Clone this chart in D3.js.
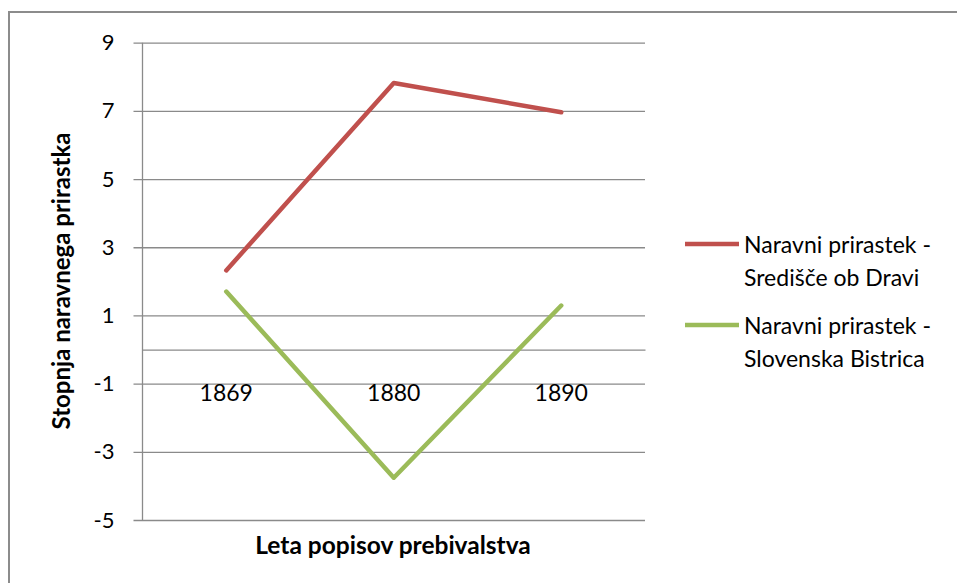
<!DOCTYPE html>
<html>
<head>
<meta charset="utf-8">
<script src="https://cdn.jsdelivr.net/npm/d3@7"></script>
<style>
  html, body { margin: 0; padding: 0; background: #fff; }
  svg { display: block; }
  text { font-family: Lato, "Open Sans", sans-serif; fill: #000; }
</style>
</head>
<body>
<svg id="chart" width="957" height="583"></svg>
<script>
// Census years on the category axis
const years = ["1869", "1880", "1890"];
// Natural growth rate per series
const sredisce = [2.32, 7.82, 6.96];
const bistrica = [1.70, -3.76, 1.29];
const seriesNames = [
  ["Naravni prirastek -", "Središče ob Dravi"],
  ["Naravni prirastek -", "Slovenska Bistrica"]
];
const yTicks = [9, 7, 5, 3, 1, -1, -3, -5];

const series = [
  { values: sredisce, color: "#c0504d", label: seriesNames[0] },
  { values: bistrica, color: "#9bbb59", label: seriesNames[1] }
];

const svg = d3.select("#chart");

// Outer chart frame
svg.append("rect")
  .attr("x", 9).attr("y", 12)
  .attr("width", 960).attr("height", 600)
  .attr("fill", "none")
  .attr("stroke", "#8c8c8c")
  .attr("stroke-width", 2);

const plot = { left: 142.5, right: 645, top: 42.7, bottom: 520 };

const x = d3.scaleBand().domain(years).range([plot.left, plot.right]);
const y = d3.scaleLinear().domain([-5, 9]).range([plot.bottom, plot.top]);

// Horizontal gridlines with outward tick marks (plain hyphen for negatives)
const yAxis = d3.axisLeft(y)
  .tickValues(yTicks)
  .tickSize(-(plot.right - plot.left))
  .tickPadding(28)
  .tickFormat(d => String(d));

const gy = svg.append("g")
  .attr("transform", `translate(${plot.left},0)`)
  .call(yAxis);
gy.select(".domain").remove();
gy.selectAll(".tick line")
  .attr("x1", -9)
  .attr("stroke", "#8a8a8a")
  .attr("stroke-width", 1.3);
gy.selectAll(".tick text")
  .attr("font-size", 22)
  .attr("font-family", "Lato, sans-serif")
  .attr("fill", "#1a1a1a");

// Vertical value axis line
svg.append("line")
  .attr("x1", plot.left).attr("x2", plot.left)
  .attr("y1", plot.top).attr("y2", plot.bottom)
  .attr("stroke", "#8a8a8a").attr("stroke-width", 1.3);

// Category axis crossing at zero, labels sit below the -1 gridline
const xAxis = d3.axisBottom(x).tickSize(0).tickPadding(51);
const gx = svg.append("g")
  .attr("transform", `translate(0,${y(0)})`)
  .call(xAxis);
gx.select(".domain")
  .attr("stroke", "#8a8a8a")
  .attr("stroke-width", 1.3);
gx.selectAll(".tick text")
  .attr("font-size", 23)
  .attr("font-family", "Lato, sans-serif")
  .attr("fill", "#1a1a1a")
  .attr("dy", "0");

// Series lines
const line = d3.line()
  .x((d, i) => x(years[i]) + x.bandwidth() / 2)
  .y(d => y(d));

series.forEach(s => {
  svg.append("path")
    .datum(s.values)
    .attr("d", line)
    .attr("fill", "none")
    .attr("stroke", s.color)
    .attr("stroke-width", 4.5)
    .attr("stroke-linejoin", "round")
    .attr("stroke-linecap", "round");
});

// Axis titles
svg.append("text")
  .attr("x", 393).attr("y", 554)
  .attr("text-anchor", "middle")
  .attr("font-size", 24.5)
  .attr("font-weight", "bold")
  .text("Leta popisov prebivalstva");

svg.append("text")
  .attr("transform", "translate(70,281) rotate(-90)")
  .attr("text-anchor", "middle")
  .attr("font-size", 24)
  .attr("font-weight", "bold")
  .text("Stopnja naravnega prirastka");

// Legend
const legendY = [244, 325];
series.forEach((s, i) => {
  const g = svg.append("g").attr("transform", `translate(0,${legendY[i]})`);
  g.append("line")
    .attr("x1", 685).attr("x2", 739)
    .attr("y1", 0).attr("y2", 0)
    .attr("stroke", s.color)
    .attr("stroke-width", 4.5);
  g.append("text")
    .attr("x", 744).attr("y", 9)
    .attr("font-size", 23)
    .text(s.label[0]);
  g.append("text")
    .attr("x", 744).attr("y", 42)
    .attr("font-size", 23)
    .text(s.label[1]);
});
</script>
</body>
</html>
